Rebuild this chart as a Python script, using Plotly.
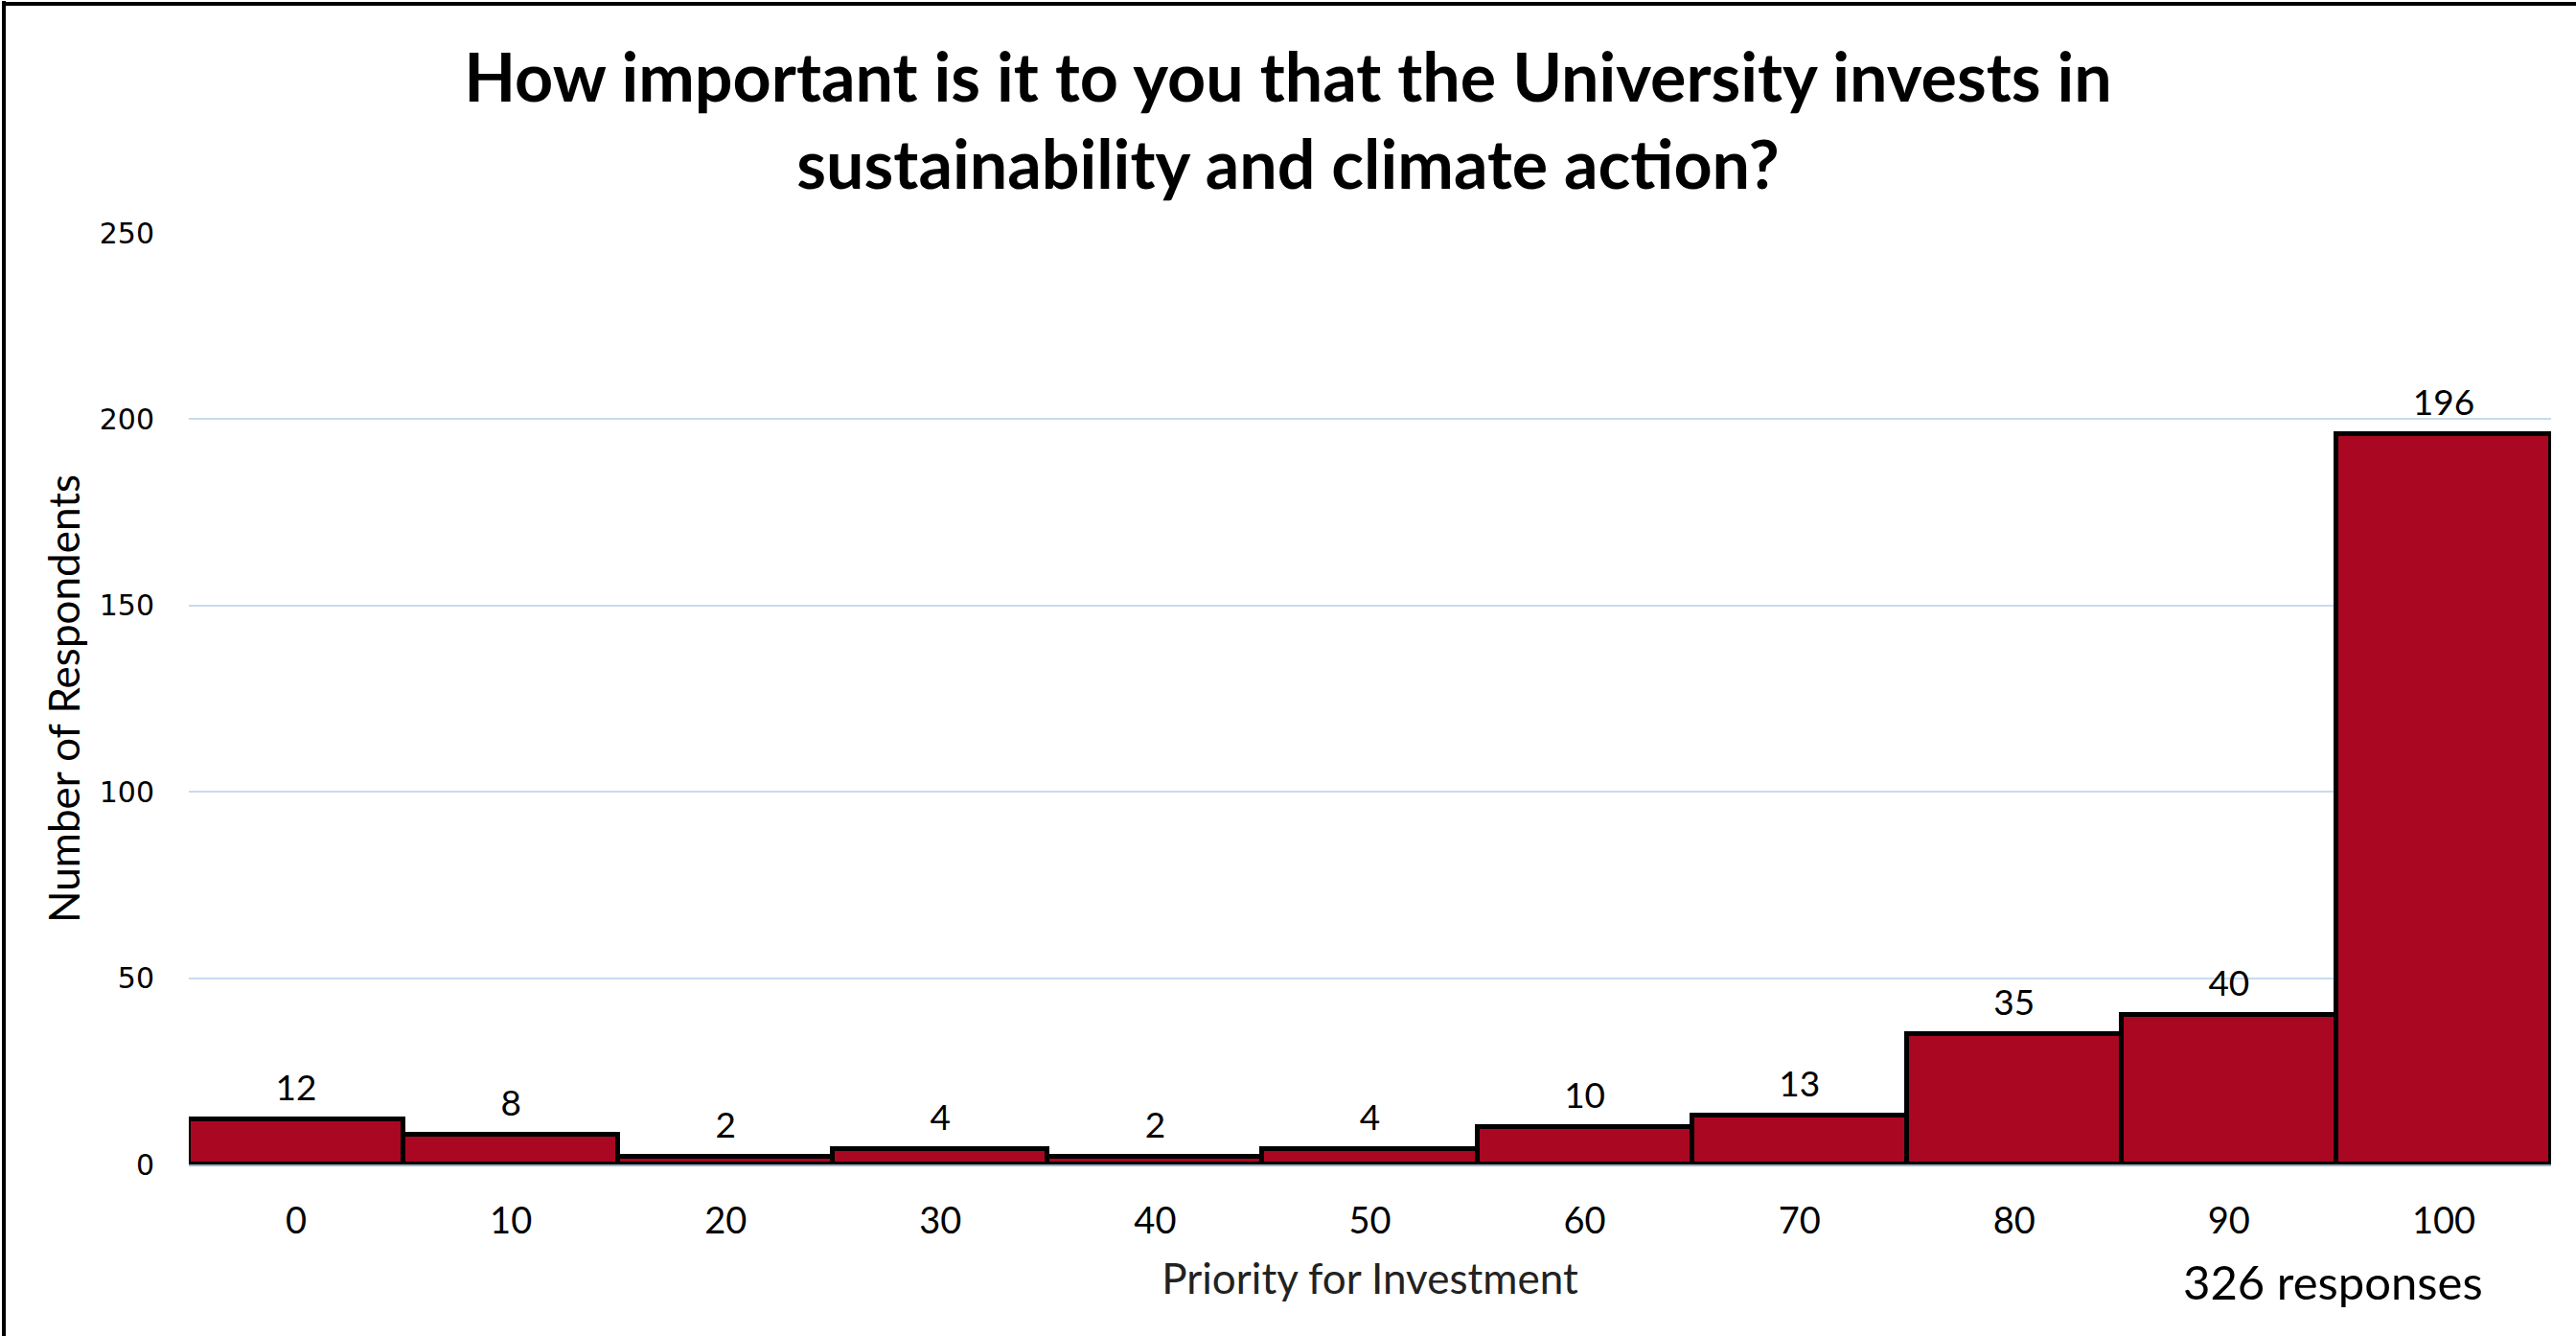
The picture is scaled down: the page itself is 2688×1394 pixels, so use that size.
import plotly.graph_objects as go

categories = ["0", "10", "20", "30", "40", "50", "60", "70", "80", "90", "100"]
respondents = [12, 8, 2, 4, 2, 4, 10, 13, 35, 40, 196]
y_ticks = [0, 50, 100, 150, 200, 250]
title_text = "<b>How important is it to you that the University invests in<br>sustainability and climate action?</b>"
x_title = "Priority for Investment"
y_title = "Number of Respondents"
note_text = "326 responses"

W, H = 2688, 1394
ML, MR, MT, MB = 197, 26, 243, 179
PW, PH = W - ML - MR, H - MT - MB

BAR_COLOR = "#AA0722"
FONT = "Lato"

fig = go.Figure()
fig.add_trace(go.Bar(
    x=categories, y=respondents,
    marker=dict(color=BAR_COLOR, line=dict(color="black", width=5)),
    hoverinfo="x+y", showlegend=False,
))
fig.add_trace(go.Scatter(
    x=categories, y=respondents, mode="markers+text",
    text=[str(v) for v in respondents], textposition="top center",
    textfont=dict(family=FONT, size=37, color="black"),
    marker=dict(size=16, opacity=0), hoverinfo="skip", showlegend=False,
    cliponaxis=False,
))

fig.update_layout(
    width=W, height=H,
    margin=dict(l=ML, r=MR, t=MT, b=MB),
    paper_bgcolor="white", plot_bgcolor="white",
    bargap=0,
    title=dict(text=title_text, x=0.5, xanchor="center", y=1 - 106 / H, yanchor="middle",
               font=dict(family=FONT, size=70, color="black")),
    font=dict(family=FONT, color="black"),
)
fig.update_xaxes(
    type="category", range=[-0.5, len(categories) - 0.5],
    showgrid=False, showline=False, zeroline=False,
    ticks="outside", ticklen=25, tickcolor="rgba(0,0,0,0)",
    tickfont=dict(family=FONT, size=38, color="black"),
    title=dict(text=x_title, font=dict(family=FONT, size=44, color="#222"), standoff=25),
)
fig.update_yaxes(
    range=[0, 250], tickvals=y_ticks, showgrid=True, gridcolor="#C9DAF0", gridwidth=2,
    zeroline=True, zerolinecolor="#9FB3CC", zerolinewidth=4, showline=False,
    ticks="outside", ticklen=29, tickcolor="rgba(0,0,0,0)",
    tickfont=dict(family="DejaVu Sans", size=30, color="black"),
    title=dict(text=y_title, font=dict(family=FONT, size=44, color="black"), standoff=6),
)
fig.add_annotation(
    text=note_text, xref="paper", yref="paper",
    x=(2434 - ML) / PW, y=-(1337 - (H - MB)) / PH, xanchor="center", yanchor="middle",
    showarrow=False, font=dict(family=FONT, size=49, color="black"),
)
# frame visible on the left and top edges only
fig.add_shape(
    type="line", xref="paper", yref="paper",
    x0=(4 - ML) / PW, x1=(4 - ML) / PW, y0=-MB / PH, y1=1 + (MT - 1) / PH,
    line=dict(color="black", width=4), layer="above",
)
fig.add_shape(
    type="line", xref="paper", yref="paper",
    x0=(2 - ML) / PW, x1=(W - ML) / PW, y0=1 + (MT - 4) / PH, y1=1 + (MT - 4) / PH,
    line=dict(color="black", width=4), layer="above",
)

fig.write_html("out.html", config={"displayModeBar": False},
               post_script="document.body.style.margin='0';document.body.style.overflow='hidden';")
